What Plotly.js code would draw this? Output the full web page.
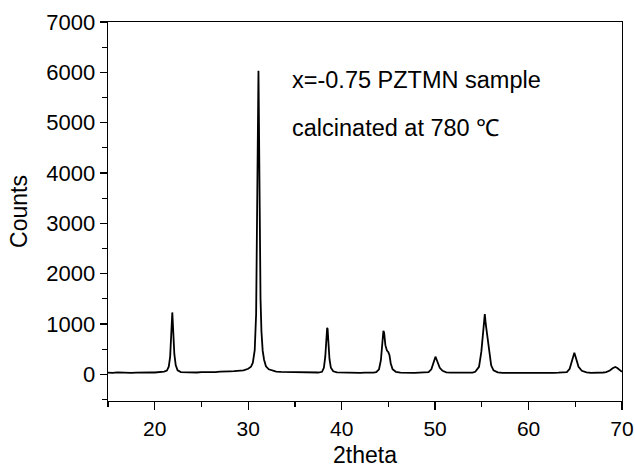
<!DOCTYPE html>
<html>
<head>
<meta charset="utf-8">
<script src="https://cdn.plot.ly/plotly-3.0.1.min.js"></script>
<style>html,body{margin:0;padding:0;background:#fff;}#chart{width:635px;height:472px;}</style>
</head>
<body>
<div id="chart"></div>
<script>
// 2theta values (degrees)
const twoTheta = [
  15, 15.5, 16, 16.5, 17, 17.5, 18, 18.5, 19, 19.5, 20, 20.5, 21, 21.3, 21.5, 21.65, 21.75, 21.83, 21.88, 21.93, 22.0, 22.1, 22.25, 22.45, 22.8,
  23.3, 24, 24.5, 25, 25.5, 26, 26.5, 27, 27.5, 28, 28.5, 29, 29.5, 30, 30.3, 30.5, 30.7, 30.85, 30.95, 31.02, 31.06, 31.1, 31.14, 31.18, 31.24, 31.32, 31.42, 31.55, 31.7, 31.9, 32.2, 32.6,
  33, 33.5, 34, 34.5, 35, 35.5, 36, 36.5, 37, 37.5, 37.9, 38.1, 38.25, 38.37, 38.45, 38.5, 38.58, 38.7, 38.85, 39.1, 39.5,
  40, 40.5, 41, 41.5, 42, 42.5, 43, 43.4, 43.7, 44.0, 44.2, 44.35, 44.47, 44.55, 44.68, 44.85, 45.0, 45.12, 45.25, 45.45, 45.8, 46.3,
  46.8, 47.3, 47.8, 48.3, 48.8, 49.3, 49.6, 49.8, 49.95, 50.04, 50.15, 50.3, 50.5, 50.8, 51.2, 51.7,
  52.2, 52.7, 53.2, 53.7, 54.0, 54.3, 54.7, 54.95, 55.12, 55.25, 55.32, 55.42, 55.55, 55.7, 55.85, 56.0, 56.25, 56.7, 57.2,
  57.7, 58.2, 58.7, 59.2, 59.7, 60.2, 60.7, 61.2, 61.7, 62.2, 62.7, 63.2, 63.7, 64.1, 64.4, 64.65, 64.82, 64.9, 65.0, 65.15, 65.35, 65.7, 66.2,
  66.7, 67.2, 67.7, 68.0, 68.3, 68.7, 69.0, 69.28, 69.5, 69.75, 70
];
// Counts
const counts = [
  35, 28, 38, 30, 36, 27, 34, 40, 32, 38, 36, 42, 55, 75, 150, 350, 700, 1100, 1230, 1050, 750, 400, 180, 80, 45,
  38, 42, 36, 45, 40, 48, 44, 52, 50, 58, 62, 68, 78, 110, 150, 230, 480, 1200, 2800, 4400, 5300, 6030, 5250, 4400, 2800, 1500, 850, 470, 290, 160, 100, 70,
  55, 48, 45, 40, 42, 38, 40, 35, 38, 36, 50, 130, 350, 700, 925, 900, 650, 300, 130, 60, 40,
  36, 34, 30, 34, 28, 33, 30, 35, 45, 100, 280, 600, 865, 820, 580, 470, 440, 380, 220, 100, 50, 35,
  30, 34, 28, 32, 30, 42, 100, 230, 330, 350, 300, 210, 130, 70, 40, 32,
  30, 28, 32, 30, 35, 50, 150, 450, 850, 1170, 1195, 1000, 800, 620, 380, 180, 80, 40, 30,
  28, 32, 26, 30, 28, 31, 27, 30, 26, 30, 28, 32, 35, 45, 110, 280, 410, 430, 370, 250, 150, 70, 40,
  30, 28, 32, 36, 45, 75, 120, 145, 125, 85, 50
];
// Axis ticks
const yTicks = [0, 1000, 2000, 3000, 4000, 5000, 6000, 7000];
const xTicks = [20, 30, 40, 50, 60, 70];
const noteLines = ["x=-0.75 PZTMN sample", "calcinated at 780 ℃"];

const font = "Liberation Sans, Arial, Helvetica, sans-serif";

const trace = {
  x: twoTheta, y: counts, type: 'scatter', mode: 'lines',
  line: {color: '#000', width: 1.8, shape: 'linear'},
  hoverinfo: 'x+y', showlegend: false
};

const layout = {
  width: 635, height: 472,
  margin: {l: 108, r: 13, t: 22, b: 71, pad: 0},
  paper_bgcolor: '#fff', plot_bgcolor: '#fff',
  font: {family: font, color: '#000', size: 21},
  xaxis: {
    range: [15, 70], tickvals: xTicks, ticktext: xTicks.map(String),
    ticks: 'outside', ticklen: 8, tickwidth: 1.3, tickcolor: '#000',
    showline: true, linecolor: '#000', linewidth: 1.3, mirror: true,
    showgrid: false, zeroline: false,
    tickfont: {family: font, size: 21, color: '#000'},
    minor: {dtick: 5, tick0: 15, ticks: 'outside', ticklen: 5, tickwidth: 1.3, tickcolor: '#000', showgrid: false},
    title: {text: '2theta', font: {family: font, size: 23, color: '#000'}, standoff: 8},
    automargin: false
  },
  yaxis: {
    range: [-530, 7000], tickvals: yTicks, ticktext: yTicks.map(String),
    ticks: 'outside', ticklen: 7, tickwidth: 1.3, tickcolor: '#000',
    showline: true, linecolor: '#000', linewidth: 1.3, mirror: true,
    showgrid: false, zeroline: false,
    tickfont: {family: font, size: 22, color: '#000'},
    minor: {dtick: 500, tick0: 0, ticks: 'outside', ticklen: 5, tickwidth: 1.3, tickcolor: '#000', showgrid: false},
    title: {text: 'Counts', font: {family: font, size: 23, color: '#000'}, standoff: 12},
    automargin: false
  },
  annotations: [
    {text: noteLines[0], xref: 'paper', yref: 'paper', x: (290 - 108) / 513.7, y: 1 - (80 - 22) / 379, xanchor: 'left', yanchor: 'middle', showarrow: false, font: {family: font, size: 23.5, color: '#000'}},
    {text: noteLines[1], xref: 'paper', yref: 'paper', x: (290 - 108) / 513.7, y: 1 - (128 - 22) / 379, xanchor: 'left', yanchor: 'middle', showarrow: false, font: {family: font, size: 23.5, color: '#000'}}
  ]
};

Plotly.newPlot('chart', [trace], layout, {displayModeBar: false, staticPlot: true});
</script>
</body>
</html>
